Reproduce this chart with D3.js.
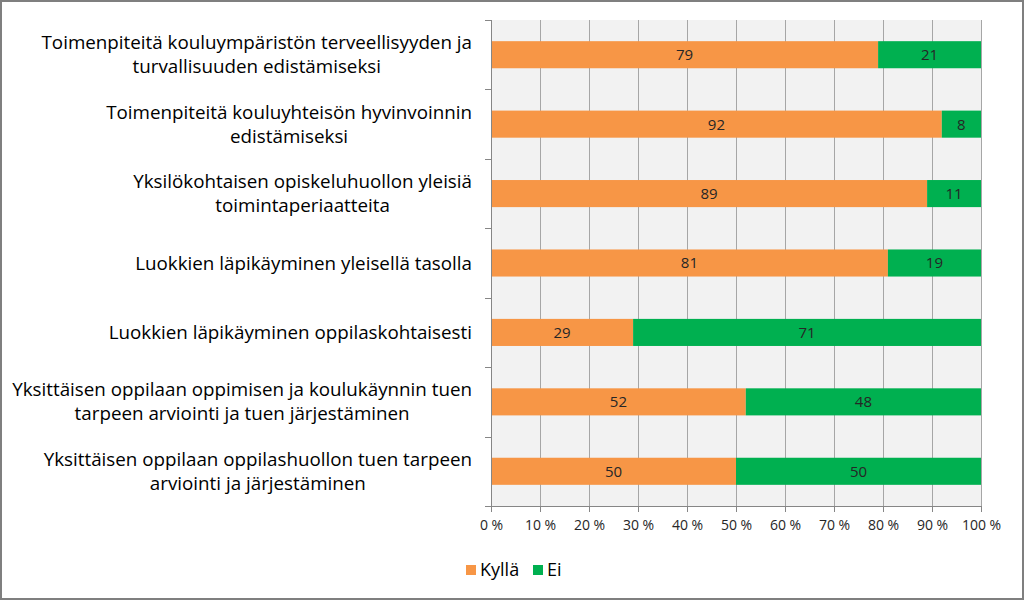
<!DOCTYPE html>
<html lang="fi">
<head>
<meta charset="utf-8">
<title>Kyllä / Ei</title>
<script src="https://d3js.org/d3.v7.min.js"></script>
<style>
body { margin: 0; background: #fff; }
svg { display: block; font-family: "Open Sans", "Noto Sans", sans-serif; }
</style>
</head>
<body>
<script>
// categories, each split into its two label lines
var categories = [
  ["Toimenpiteitä kouluympäristön terveellisyyden ja", "turvallisuuden edistämiseksi"],
  ["Toimenpiteitä kouluyhteisön hyvinvoinnin", "edistämiseksi"],
  ["Yksilökohtaisen opiskeluhuollon yleisiä", "toimintaperiaatteita"],
  ["Luokkien läpikäyminen yleisellä tasolla"],
  ["Luokkien läpikäyminen oppilaskohtaisesti"],
  ["Yksittäisen oppilaan oppimisen ja koulukäynnin tuen", "tarpeen arviointi ja tuen järjestäminen"],
  ["Yksittäisen oppilaan oppilashuollon tuen tarpeen", "arviointi ja järjestäminen"]
];
var kylla = [79, 92, 89, 81, 29, 52, 50];
var ei = [21, 8, 11, 19, 71, 48, 50];
var seriesNames = ["Kyllä", "Ei"];
var seriesColors = ["#F79646", "#00B050"];
var xTicks = [0, 10, 20, 30, 40, 50, 60, 70, 80, 90, 100];

var width = 1024, height = 600;
var plot = {left: 491, right: 981, top: 20, bottom: 506};

var svg = d3.select("body").append("svg")
  .attr("width", width)
  .attr("height", height);

// outer frame
svg.append("rect")
  .attr("x", 1).attr("y", 1)
  .attr("width", width - 2).attr("height", height - 2)
  .attr("fill", "#fff")
  .attr("stroke", "#7f7f7f")
  .attr("stroke-width", 2);

var x = d3.scaleLinear().domain([0, 100]).range([plot.left, plot.right]);
var y = d3.scaleBand()
  .domain(d3.range(categories.length))
  .range([plot.top, plot.bottom])
  .paddingInner(0.61).paddingOuter(0.305);
var yBand = d3.scaleBand()
  .domain(d3.range(categories.length))
  .range([plot.top, plot.bottom]);

// plot background
svg.append("rect")
  .attr("x", plot.left).attr("y", plot.top)
  .attr("width", plot.right - plot.left)
  .attr("height", plot.bottom - plot.top)
  .attr("fill", "#f2f2f2");

// vertical gridlines
svg.append("g").selectAll("line")
  .data(xTicks.slice(1))
  .join("line")
  .attr("x1", d => Math.round(x(d)) + 0.5).attr("x2", d => Math.round(x(d)) + 0.5)
  .attr("y1", plot.top).attr("y2", plot.bottom)
  .attr("stroke", "#a6a6a6")
  .attr("stroke-width", 1);

// stacked bars
var stackData = kylla.map((k, i) => ({i: i, vals: [k, ei[i]]}));
stackData.forEach(function(d) {
  var x0 = 0;
  d.vals.forEach(function(v, s) {
    var g = svg.append("g");
    g.append("rect")
      .attr("x", x(x0))
      .attr("y", y(d.i))
      .attr("width", x(x0 + v) - x(x0))
      .attr("height", y.bandwidth())
      .attr("fill", seriesColors[s]);
    g.append("text")
      .attr("x", (x(x0) + x(x0 + v)) / 2)
      .attr("y", y(d.i) + y.bandwidth() / 2)
      .attr("dy", "0.36em")
      .attr("text-anchor", "middle")
      .attr("font-size", 15)
      .attr("fill", "#262626")
      .text(v);
    x0 += v;
  });
});

// y axis line and ticks
var yAxis = svg.append("g").attr("stroke", "#868686").attr("stroke-width", 1);
yAxis.append("line")
  .attr("x1", plot.left + 0.5).attr("x2", plot.left + 0.5)
  .attr("y1", plot.top).attr("y2", plot.bottom);
yAxis.selectAll("line.tick")
  .data(d3.range(categories.length + 1))
  .join("line")
  .attr("class", "tick")
  .attr("x1", plot.left - 6).attr("x2", plot.left)
  .attr("y1", d => Math.round(plot.top + d * yBand.step()) + 0.5)
  .attr("y2", d => Math.round(plot.top + d * yBand.step()) + 0.5);

// x axis
var xAxis = d3.axisBottom(x)
  .tickValues(xTicks)
  .tickSize(6)
  .tickFormat(d => d + "\u00a0%");
var gx = svg.append("g")
  .attr("transform", "translate(0," + plot.bottom + ")")
  .call(xAxis);
gx.select(".domain").attr("stroke", "#868686");
gx.selectAll(".tick line").attr("stroke", "#868686");
gx.selectAll(".tick text")
  .attr("font-family", "'Open Sans', sans-serif")
  .attr("font-size", 14)
  .attr("fill", "#262626")
  .attr("dy", "1.1em");

// category labels: lines centred on each other, block right-aligned
var labels = svg.append("g");
var labelRight = 472;
categories.forEach(function(lines, i) {
  var cy = y(i) + y.bandwidth() / 2;
  var lh = 24;
  var t = labels.append("text")
    .attr("text-anchor", "middle")
    .attr("font-size", 18.8)
    .attr("fill", "#000");
  var spans = lines.map(function(line, j) {
    return t.append("tspan")
      .attr("y", cy - (lines.length - 1) * lh / 2 + j * lh)
      .attr("dy", "0.35em")
      .text(line);
  });
  var maxW = d3.max(spans, sp => sp.node().getComputedTextLength());
  spans.forEach(sp => sp.attr("x", labelRight - maxW / 2));
});

// legend
var legend = svg.append("g");
var lx = [466, 533];
seriesNames.forEach(function(name, s) {
  legend.append("rect")
    .attr("x", lx[s]).attr("y", 565)
    .attr("width", 10).attr("height", 10)
    .attr("fill", seriesColors[s]);
  legend.append("text")
    .attr("x", lx[s] + 14).attr("y", 570)
    .attr("dy", "0.36em")
    .attr("font-size", 18)
    .attr("fill", "#000")
    .text(name);
});
</script>
</body>
</html>
